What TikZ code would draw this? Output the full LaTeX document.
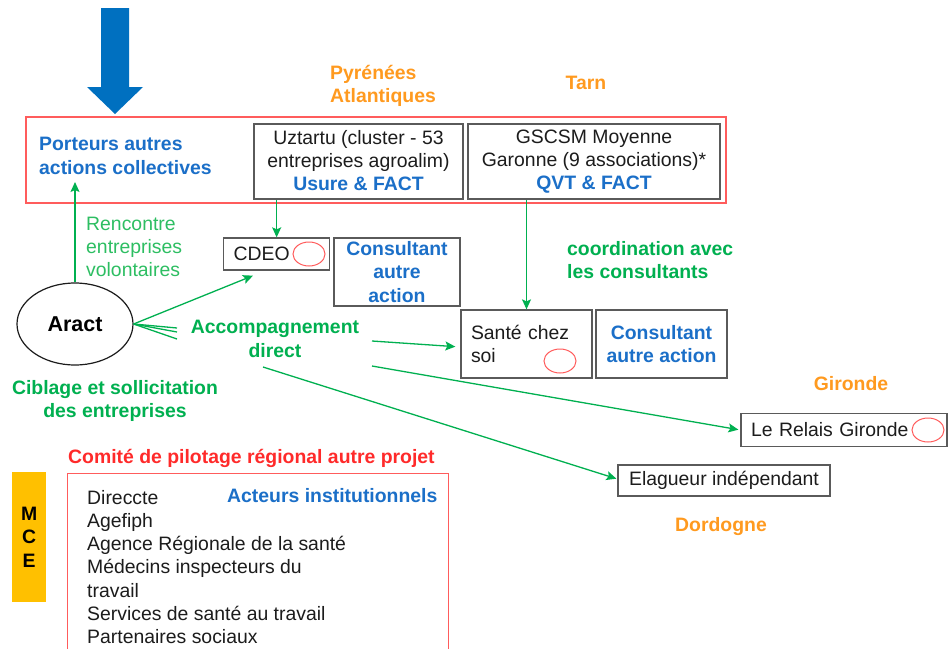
\documentclass[tikz,border=0pt]{standalone}
\usepackage{fontspec}
\setmainfont{Liberation Sans}
\usetikzlibrary{arrows.meta,shapes.geometric}
\definecolor{tblue}{HTML}{1B6FC8}
\definecolor{bigblue}{HTML}{0070C0}
\definecolor{tgreen}{HTML}{00B050}
\definecolor{lgreen}{HTML}{2DBE62}
\definecolor{tora}{HTML}{FF9A1F}
\definecolor{tred}{HTML}{FF2A2A}
\definecolor{fred}{HTML}{FF5C5C}
\definecolor{boxgray}{HTML}{5A5A5A}
\definecolor{mce}{HTML}{FFC000}
\definecolor{ink}{HTML}{1C1C1C}
\newcommand\fn{\fontsize{19.4}{23.3}\selectfont}
\tikzset{
  txt/.style={font=\fn, inner sep=0pt, text=ink, yshift=-2pt},
  bluebold/.style={font=\fn\bfseries, inner sep=0pt, text=tblue, yshift=-2pt},
  greenbold/.style={font=\fn\bfseries, inner sep=0pt, text=tgreen, yshift=-2pt},
  orangebold/.style={font=\fn\bfseries, inner sep=0pt, text=tora, yshift=-2pt},
  boxnode/.style={draw=boxgray, line width=1.3pt, inner sep=0pt, font=\fn, text=ink, align=center},
  garrow/.style={draw=tgreen, line width=1.3pt, -{Stealth[length=10pt,width=9pt,inset=2pt]}},
  gline/.style={draw=tgreen, line width=1.3pt},
  redc/.style={draw=fred, ellipse, minimum width=32pt, minimum height=24pt, line width=1pt, inner sep=0pt},
}
\begin{document}
\begin{tikzpicture}[x=1pt,y=-1pt]
\useasboundingbox[fill=white] (0,0) rectangle (950,648);

% big blue arrow
\fill[bigblue] (101,8) -- (129,8) -- (129,87) -- (143,87) -- (115,114) -- (87,87) -- (101,87) -- cycle;

% red frame top
\node[draw=fred, line width=1.1pt, minimum width=700pt, minimum height=86pt, inner sep=0pt] (frame) at (376,160) {};

\node[orangebold, align=left, anchor=west] (pyr) at (330,84) {Pyrénées\\Atlantiques};
\node[orangebold] (tarn) at (586,81) {Tarn};

\node[bluebold, align=left, anchor=west] (porteurs) at (39,154) {Porteurs autres\\actions collectives};

\node[boxnode, minimum width=209pt, minimum height=75pt, text depth=2pt] (uzt) at (358.5,161.5)
  {Uztartu (cluster - 53\\entreprises agroalim)\\\textcolor{tblue}{\bfseries Usure \& FACT}};
\node[boxnode, minimum width=252pt, minimum height=75pt] (gscsm) at (594,161.5)
  {GSCSM Moyenne\\Garonne (9 associations)*\\\textcolor{tblue}{\bfseries QVT \& FACT}};

% Aract
\node[draw=ink, line width=1.2pt, ellipse, minimum width=116pt, minimum height=82pt, inner sep=0pt,
  font=\fontsize{21.5}{25}\selectfont\bfseries, text=black] (aract) at (75,324) {Aract};

\coordinate (ptarget) at (75,182);
\draw[garrow] (aract.north) -- (ptarget);
\node[txt, text=lgreen, align=left, anchor=west] (renc) at (86,245) {Rencontre\\entreprises\\volontaires};

% CDEO
\node[boxnode, minimum height=32pt, text width=86pt, inner xsep=10pt, align=left, anchor=west] (cdeo) at (223,254) {CDEO};
\node[redc] (o1) at (309,254) {};
\node[boxnode, minimum width=126pt, minimum height=68pt, font=\fn\bfseries, text=tblue] (cons1) at (397,272) {Consultant\\autre\\action};

\draw[garrow] (uzt.south -| cdeo.north) -- (cdeo.north);
\draw[garrow] (aract.east) -- ([xshift=30pt,yshift=-5pt]cdeo.south west);

% fan lines
\coordinate (f1) at (177,328);
\coordinate (f2) at (177,332);
\coordinate (f3) at (177,339);
\draw[gline] (aract.east) -- (f1);
\draw[gline] (aract.east) -- (f2);
\draw[gline] (aract.east) -- (f3);

\node[greenbold, align=center] (acc) at (275,337) {Accompagnement\\direct};
\node[greenbold, align=center] (cib) at (115,399) {Ciblage et sollicitation\\des entreprises};

% Santé chez soi
\node[boxnode, minimum height=68pt, text width=111pt, inner xsep=10pt, align=left] (sante) at (526.5,344) {Santé chez\\soi};
\node[redc] (o2) at (560,361) {};
\node[boxnode, minimum width=131pt, minimum height=68pt, font=\fn\bfseries, text=tblue] (cons2) at (661.5,344) {Consultant\\autre action};

\draw[garrow] (gscsm.south -| sante.north) -- (sante.north);
\node[greenbold, align=left, anchor=west] (coord) at (567,258) {coordination avec\\les consultants};

% Gironde / Dordogne
\node[orangebold] (gir) at (851,382) {Gironde};
\node[boxnode, minimum width=206pt, minimum height=33pt, text width=186pt, inner xsep=10pt, align=left] (relais) at (844,430) {Le Relais Gironde};
\node[redc] (o3) at (928,430) {};
\node[boxnode, minimum width=212pt, minimum height=31pt] (elag) at (724,480.5) {Elagueur indépendant};
\node[orangebold] (dord) at (721,525) {Dordogne};

% arrows from Accompagnement direct
\coordinate (a1) at (372,341);
\coordinate (a2) at (372,366);
\coordinate (a3) at (263,367);
\draw[garrow, shorten >=5pt] (a1) -- ([yshift=-3pt]sante.west);
\draw[garrow, shorten >=2pt] (a2) -- (relais.west);
\draw[garrow, shorten >=1pt] (a3) -- ([yshift=1.5pt]elag.west);

% bottom: comité
\node[font=\fn\bfseries, text=tred, inner sep=0pt, anchor=west, yshift=-1pt] (comite) at (68,457) {Comité de pilotage régional autre projet};
\node[draw=fred, line width=1.1pt, minimum width=381pt, minimum height=200pt, inner sep=0pt, anchor=north west] (copil) at (67,473) {};
\node[fill=mce, minimum width=34pt, minimum height=130pt, inner sep=0pt, anchor=north west] (mcebox) at (12,472) {};
\node[font=\fn\bfseries, text=black, inner sep=0pt, align=center] (mcet) at (mcebox.center) {M\\C\\E};

\node[txt, align=left, anchor=west] (list) at (87,565) {Direccte\\Agefiph\\Agence Régionale de la santé\\Médecins inspecteurs du\\travail\\Services de santé au travail\\Partenaires sociaux};
\node[bluebold, anchor=west] (acteurs) at (227,494) {Acteurs institutionnels};
\end{tikzpicture}
\end{document}
